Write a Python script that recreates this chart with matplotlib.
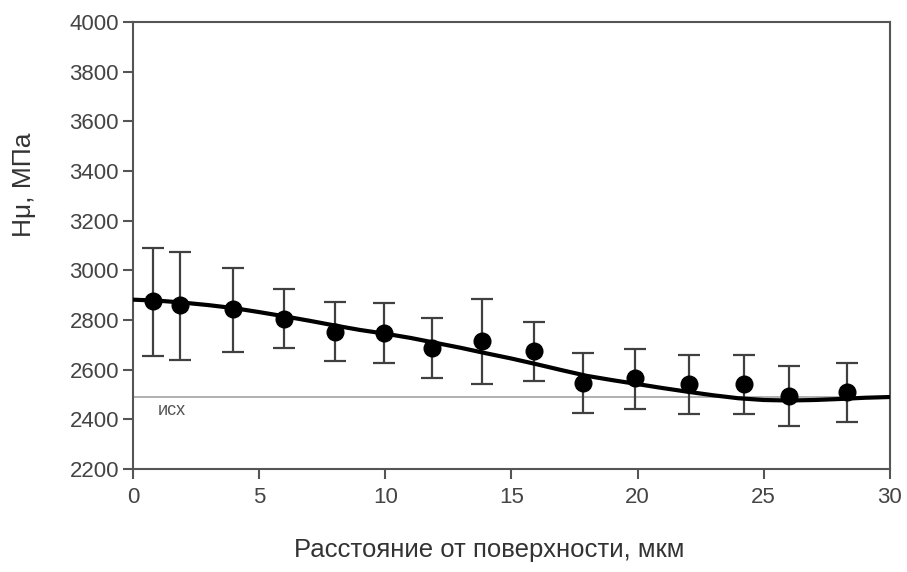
import matplotlib.pyplot as plt

plt.rcParams['font.family'] = ['Liberation Sans', 'DejaVu Sans']

# measured points
depth = [0.8, 1.85, 3.95, 6.0, 8.0, 9.95, 11.85, 13.85, 15.9, 17.85, 19.9, 22.05, 24.2, 26.0, 28.3]
hardness = [2876, 2860, 2844, 2804, 2752, 2748, 2687, 2715, 2675, 2546, 2566, 2542, 2542, 2494, 2510]
err_up = [3090, 3074, 3009, 2925, 2872, 2868, 2808, 2885, 2792, 2667, 2683, 2659, 2659, 2615, 2627]
err_down = [2655, 2639, 2671, 2687, 2635, 2627, 2566, 2542, 2554, 2425, 2442, 2421, 2421, 2373, 2389]

# fitted curve
fit_x = [0, 1, 2, 3, 4, 5, 6, 7, 8, 9, 10, 11, 12, 13, 14, 15, 16, 17, 18, 19, 20,
         21, 22, 23, 24, 25, 26, 27, 28, 29, 30]
fit_y = [2882, 2878, 2870, 2860, 2848, 2832, 2815, 2797, 2778, 2760, 2745, 2728, 2708,
         2688, 2666, 2645, 2622, 2598, 2575, 2558, 2542, 2526, 2511, 2497, 2485, 2478,
         2476, 2478, 2482, 2487, 2490]

baseline = 2492

lo = [h - d for h, d in zip(hardness, err_down)]
hi = [u - h for h, u in zip(hardness, err_up)]

fig = plt.figure(figsize=(9.07, 5.72), dpi=100)
ax = fig.add_axes([0.1466, 0.18, 0.8345, 0.7815])

ax.axhline(baseline, color='#aaaaaa', lw=1.3, zorder=1)
ax.text(1.0, 2437, 'исх', fontsize=13, color='#555555', va='center', ha='left')

ax.errorbar(depth, hardness, yerr=[lo, hi], fmt='none', ecolor='#404040',
            elinewidth=1.6, capsize=8, capthick=1.6, zorder=2)
ax.plot(fit_x, fit_y, color='black', lw=3.0, zorder=3)
ax.plot(depth, hardness, 'o', color='black', ms=12, zorder=4)

ax.set_xlim(0, 30)
ax.set_ylim(2200, 4000)
ax.set_xticks(range(0, 31, 5))
ax.set_yticks(range(2200, 4001, 200))

for s in ax.spines.values():
    s.set_color('#555555')
    s.set_linewidth(1.5)

ax.tick_params(direction='out', length=7, width=1.5, color='#555555',
               labelcolor='#444444', labelsize=16)
ax.tick_params(axis='y', pad=3)
ax.tick_params(axis='x', pad=6)

ax.set_xlabel('Расстояние от поверхности, мкм', fontsize=18.5, color='#333333')
ax.set_ylabel('Hμ, МПа', fontsize=19, color='#333333')
ax.xaxis.set_label_coords(0.47, -0.155)
ax.yaxis.set_label_coords(-0.128, 0.635)

fig.savefig('out.png', dpi=100)
